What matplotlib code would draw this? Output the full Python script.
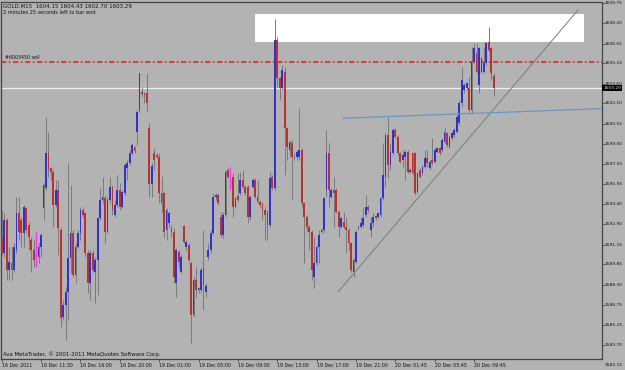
import matplotlib
matplotlib.use("Agg")
import matplotlib.pyplot as plt
from matplotlib.patches import Rectangle
from matplotlib.transforms import blended_transform_factory

# ---------------- data (GOLD, M15) ----------------
opens = [1591.95, 1590.68, 1593.22, 1589.41, 1589.92, 1589.41, 1590.93, 1593.73, 1593.22, 1592.20,
         1594.11, 1592.84, 1591.70, 1590.93, 1590.40, 1590.43, 1591.19, 1594.11, 1595.63, 1598.30,
         1597.16, 1596.90, 1594.36, 1595.50, 1592.46, 1585.86, 1586.75, 1587.76, 1590.30, 1592.20,
         1589.03, 1591.19, 1592.20, 1593.98, 1593.73, 1590.68, 1588.40, 1590.68, 1589.28, 1590.17,
         1593.35, 1594.74, 1594.87, 1592.33, 1594.74, 1595.76, 1593.60, 1594.36, 1595.51, 1594.24,
         1595.25, 1597.16, 1597.54, 1598.30, 1598.76, 1599.95, 1601.60, 1603.00, 1602.87, 1602.87,
         1600.20, 1595.96, 1598.30, 1598.17, 1598.00, 1595.30, 1595.30, 1592.46, 1592.97, 1592.59,
         1592.33, 1588.40, 1590.81, 1589.29, 1592.77, 1591.19, 1591.32, 1589.92, 1585.99, 1588.65,
         1587.89, 1587.89, 1589.54, 1587.77, 1590.43, 1590.94, 1592.21, 1594.95, 1595.13, 1593.48,
         1592.08, 1593.61, 1597.03, 1596.53, 1596.53, 1594.24, 1595.05, 1595.26, 1596.27, 1595.76,
         1595.76, 1593.48, 1595.76, 1596.27, 1595.00, 1594.62, 1594.50, 1593.99, 1593.86, 1592.85,
         1596.53, 1595.64, 1606.94, 1604.02, 1603.25, 1604.50, 1600.20, 1598.55, 1599.06, 1598.05,
         1598.05, 1598.05, 1598.55, 1594.49, 1593.47, 1592.71, 1592.33, 1588.90, 1589.92, 1591.19,
         1592.33, 1592.46, 1595.51, 1598.30, 1595.00, 1595.51, 1595.51, 1593.86, 1592.71, 1593.10,
         1592.71, 1592.46, 1591.44, 1589.29, 1590.05, 1592.59, 1592.71, 1592.84, 1593.60, 1594.23,
         1592.46, 1592.96, 1593.52, 1593.47, 1593.60, 1594.87, 1596.52, 1599.69, 1597.41, 1598.30,
         1600.07, 1599.57, 1598.30, 1597.79, 1598.04, 1598.42, 1596.90, 1598.30, 1598.30, 1595.38,
         1597.03, 1596.77, 1597.28, 1597.92, 1597.15, 1597.79, 1597.66, 1598.42, 1598.68, 1598.55,
         1599.18, 1599.82, 1598.80, 1599.44, 1599.69, 1599.95, 1600.59, 1602.11, 1603.13, 1603.25,
         1603.25, 1601.60, 1605.28, 1605.92, 1603.51, 1604.52, 1604.52, 1605.16, 1606.81, 1606.30,
         1604.15]
highs = [1593.98, 1593.73, 1593.35, 1591.19, 1591.19, 1591.44, 1595.00, 1595.00, 1593.47, 1594.36,
         1594.24, 1593.09, 1591.95, 1591.70, 1592.33, 1591.44, 1592.20, 1596.01, 1601.09, 1599.95,
         1597.28, 1597.03, 1596.27, 1596.27, 1592.71, 1587.13, 1588.14, 1597.54, 1595.89, 1592.46,
         1591.44, 1592.46, 1594.24, 1594.24, 1593.85, 1590.93, 1590.93, 1590.93, 1590.43, 1593.47,
         1595.63, 1596.52, 1595.12, 1595.00, 1596.52, 1595.89, 1594.74, 1596.65, 1596.02, 1595.51,
         1597.54, 1597.79, 1598.56, 1599.06, 1598.86, 1601.60, 1604.45, 1603.38, 1603.00, 1604.39,
         1600.59, 1597.54, 1598.68, 1598.35, 1598.30, 1596.57, 1595.38, 1594.11, 1593.86, 1592.84,
         1592.59, 1591.06, 1590.94, 1590.56, 1592.84, 1591.70, 1591.45, 1590.05, 1588.91, 1589.67,
         1588.14, 1589.67, 1592.46, 1588.40, 1591.45, 1592.46, 1595.26, 1595.26, 1595.26, 1593.86,
         1593.86, 1597.03, 1597.16, 1597.29, 1596.78, 1595.00, 1596.78, 1596.91, 1597.03, 1595.89,
         1595.89, 1595.13, 1596.40, 1596.40, 1596.27, 1594.75, 1594.62, 1594.24, 1593.99, 1596.91,
         1596.65, 1608.51, 1607.19, 1604.14, 1605.03, 1604.90, 1600.33, 1599.31, 1599.31, 1598.30,
         1598.55, 1601.73, 1598.68, 1594.62, 1593.60, 1592.84, 1592.46, 1591.95, 1591.32, 1592.46,
         1592.59, 1595.00, 1600.08, 1599.06, 1595.63, 1596.52, 1595.63, 1593.98, 1593.48, 1593.86,
         1593.48, 1592.59, 1591.57, 1590.30, 1592.46, 1592.84, 1593.48, 1594.11, 1595.12, 1594.36,
         1593.47, 1593.73, 1593.60, 1593.85, 1595.00, 1599.06, 1599.95, 1601.09, 1599.06, 1600.20,
         1600.20, 1599.69, 1598.42, 1598.55, 1598.55, 1598.55, 1597.15, 1598.42, 1598.42, 1596.90,
         1597.15, 1597.41, 1598.55, 1598.55, 1597.79, 1599.44, 1598.68, 1598.80, 1598.80, 1599.44,
         1600.20, 1599.95, 1599.69, 1599.95, 1600.20, 1601.22, 1602.36, 1604.90, 1603.63, 1603.76,
         1604.14, 1606.43, 1606.68, 1606.73, 1606.43, 1605.66, 1606.43, 1606.81, 1607.95, 1606.43,
         1604.43]
lows = [1590.55, 1590.43, 1588.65, 1588.65, 1588.65, 1589.28, 1590.68, 1591.70, 1591.19, 1591.19,
        1592.20, 1590.93, 1589.28, 1589.66, 1589.66, 1589.92, 1590.43, 1593.22, 1595.50, 1596.52,
        1596.27, 1592.71, 1594.24, 1590.55, 1585.09, 1585.60, 1584.08, 1585.60, 1589.16, 1588.90,
        1588.40, 1591.06, 1591.70, 1593.47, 1590.43, 1587.63, 1587.13, 1589.28, 1586.87, 1587.51,
        1593.22, 1594.49, 1591.44, 1592.20, 1594.49, 1593.60, 1593.47, 1594.24, 1593.98, 1594.11,
        1595.13, 1596.27, 1597.41, 1598.17, 1598.30, 1598.94, 1601.47, 1602.62, 1602.11, 1601.47,
        1595.00, 1595.00, 1597.03, 1597.92, 1594.49, 1593.73, 1591.83, 1591.70, 1592.71, 1591.95,
        1588.40, 1587.38, 1589.54, 1589.16, 1591.45, 1590.94, 1590.05, 1583.83, 1585.86, 1587.26,
        1587.64, 1587.76, 1586.37, 1587.39, 1590.18, 1590.69, 1592.08, 1594.75, 1594.37, 1591.96,
        1591.83, 1593.48, 1596.40, 1595.51, 1593.48, 1594.11, 1594.62, 1595.13, 1595.64, 1595.13,
        1592.97, 1593.23, 1595.64, 1594.88, 1594.50, 1594.24, 1593.23, 1591.70, 1591.70, 1592.72,
        1595.51, 1595.51, 1603.38, 1602.37, 1603.17, 1596.65, 1597.79, 1598.05, 1594.74, 1597.79,
        1597.79, 1597.79, 1594.24, 1589.92, 1592.33, 1590.94, 1588.65, 1588.02, 1589.79, 1589.92,
        1592.21, 1592.33, 1595.00, 1594.24, 1594.87, 1592.71, 1593.73, 1591.95, 1592.59, 1592.59,
        1590.68, 1590.94, 1589.29, 1588.90, 1589.92, 1592.46, 1592.59, 1592.71, 1593.48, 1593.85,
        1591.95, 1592.71, 1593.22, 1593.34, 1593.47, 1594.74, 1595.76, 1596.39, 1597.03, 1598.17,
        1599.44, 1598.17, 1597.53, 1597.28, 1596.26, 1596.77, 1596.77, 1596.65, 1595.12, 1595.25,
        1596.39, 1596.65, 1597.15, 1597.28, 1597.03, 1597.41, 1597.53, 1598.30, 1598.17, 1598.42,
        1599.06, 1598.80, 1598.68, 1599.31, 1599.57, 1599.82, 1600.46, 1601.86, 1602.87, 1603.13,
        1601.47, 1601.35, 1605.16, 1604.39, 1602.87, 1604.39, 1604.39, 1605.03, 1606.05, 1603.89,
        1602.70]
closes = [1590.68, 1593.22, 1589.41, 1590.05, 1589.41, 1591.19, 1593.73, 1592.33, 1592.20, 1594.24,
          1592.46, 1591.95, 1590.93, 1590.17, 1590.40, 1591.19, 1592.08, 1595.89, 1598.30, 1597.03,
          1596.90, 1594.36, 1595.50, 1592.58, 1585.73, 1586.75, 1587.76, 1590.30, 1592.20, 1589.03,
          1591.19, 1592.20, 1593.98, 1593.60, 1590.68, 1588.40, 1590.68, 1589.41, 1590.17, 1593.35,
          1594.74, 1595.00, 1592.33, 1594.74, 1595.76, 1593.98, 1594.36, 1595.50, 1594.24, 1595.38,
          1597.41, 1597.54, 1598.30, 1598.94, 1598.50, 1601.47, 1604.39, 1602.82, 1602.74, 1602.11,
          1595.96, 1597.34, 1597.79, 1598.00, 1595.25, 1594.49, 1592.33, 1593.98, 1593.73, 1592.33,
          1588.91, 1590.94, 1590.05, 1590.43, 1591.57, 1591.57, 1590.18, 1585.99, 1588.65, 1587.89,
          1588.02, 1589.41, 1588.27, 1588.20, 1590.94, 1592.21, 1595.00, 1595.13, 1594.50, 1592.08,
          1593.61, 1596.91, 1596.53, 1596.53, 1594.24, 1594.88, 1594.75, 1596.27, 1595.76, 1595.26,
          1593.48, 1595.00, 1596.27, 1595.00, 1594.62, 1594.37, 1593.99, 1593.61, 1592.85, 1596.40,
          1595.64, 1606.94, 1604.02, 1603.26, 1604.65, 1600.20, 1598.81, 1599.19, 1598.05, 1597.92,
          1598.43, 1598.55, 1594.49, 1593.47, 1592.71, 1592.33, 1589.41, 1589.92, 1591.19, 1592.08,
          1592.46, 1594.87, 1598.30, 1595.51, 1595.51, 1595.25, 1593.86, 1592.71, 1593.35, 1592.71,
          1592.46, 1591.44, 1589.41, 1590.17, 1592.33, 1592.71, 1592.97, 1593.35, 1594.24, 1593.98,
          1592.96, 1593.47, 1593.34, 1593.73, 1594.87, 1596.65, 1599.69, 1597.41, 1598.42, 1600.07,
          1599.57, 1598.30, 1597.66, 1598.17, 1598.42, 1596.90, 1597.03, 1596.77, 1595.25, 1596.77,
          1596.52, 1597.28, 1597.92, 1597.53, 1597.66, 1597.53, 1598.55, 1598.68, 1598.30, 1599.31,
          1599.95, 1598.93, 1599.57, 1599.82, 1600.07, 1601.09, 1602.11, 1603.89, 1603.51, 1603.63,
          1601.60, 1605.28, 1606.30, 1604.52, 1606.30, 1605.54, 1605.16, 1606.68, 1606.17, 1604.39,
          1603.29]
special_bars = [14, 93]          # bars drawn in magenta

time_tick_bars = [0, 16, 32, 48, 64, 80, 96, 112, 128, 144, 160, 176, 192]
time_labels = ["16 Dec 2011", "16 Dec 11:30", "16 Dec 16:00", "16 Dec 20:00", "19 Dec 01:00",
               "19 Dec 05:00", "19 Dec 09:00", "19 Dec 13:00", "19 Dec 17:00", "19 Dec 21:00",
               "20 Dec 01:45", "20 Dec 05:45", "20 Dec 09:45"]
price_labels = ["1609.75", "1608.20", "1606.65", "1605.15", "1603.60", "1602.10", "1600.55",
                "1599.00", "1597.50", "1595.95", "1594.40", "1592.90", "1591.35", "1589.85",
                "1588.30", "1586.75", "1585.25", "1583.70", "1582.15"]

sell_level = 1605.26
bid_level = 1603.29
box_bars = [103.0, 236.7]
box_prices = [1606.78, 1608.91]
gray_trend_bars = [136.7, 234.3]
gray_trend_prices = [1587.74, 1609.22]
blue_trend_bars = [138.7, 243.6]
blue_trend_prices = [1600.97, 1601.70]

title_text = "GOLD,M15  1604.15 1604.43 1602.70 1603.29"
timer_text = "2 minutes 25 seconds left to bar end"
order_text = "#6003450 sell"
copyright_text = "Ava MetaTrader, \u00a9 2001-2011 MetaQuotes Software Corp."

# ---------------- drawing ----------------
BG = "#b3b3b3"
W, H = 625, 370
fig = plt.figure(figsize=(W / 100, H / 100), dpi=100, facecolor=BG)
ax = fig.add_axes([1.5 / W, 1 - 358.5 / H, 600 / W, 357 / H], facecolor=BG)

ax.set_xlim(-0.08, 243.8)
ax.set_ylim(1582.67, 1609.86)

# white rectangle object (background)
ax.add_patch(Rectangle((box_bars[0], box_prices[0]), box_bars[1] - box_bars[0],
                       box_prices[1] - box_prices[0], facecolor="white", edgecolor="none", zorder=1))

ax.axhline(bid_level, color="#f2f2f2", lw=0.9, zorder=2)
ax.axhline(sell_level, color="#ff1a1a", lw=1.2, dashes=(3.2, 1.5, 1.0, 1.5), zorder=2)

bull_c, bear_c, wick_c = "#3232c8", "#b83232", "#7a7a7a"
bw = 0.72
for i, (o, h, l, c) in enumerate(zip(opens, highs, lows, closes)):
    if i in special_bars:
        ax.vlines(i, l, h, color="#ff33ff", lw=1.0, zorder=3)
        continue
    ax.vlines(i, l, h, color=wick_c, lw=0.7, zorder=3)
    lo, hi = min(o, c), max(o, c)
    ax.add_patch(Rectangle((i - bw / 2, lo), bw, max(hi - lo, 0.08),
                           facecolor=bull_c if c >= o else bear_c, edgecolor="none", zorder=4))

ax.plot(gray_trend_bars, gray_trend_prices, color="#7c7c7c", lw=0.7, zorder=5)
ax.plot(blue_trend_bars, blue_trend_prices, color="#6a96c8", lw=0.9, zorder=5)

for sp in ax.spines.values():
    sp.set_color("#454545")
    sp.set_linewidth(0.9)

# time axis
ax.set_xticks(time_tick_bars)
ax.set_xticklabels(time_labels, fontsize=3.4, ha="left", color="#111111")
ax.tick_params(axis="x", length=2, width=0.5, color="#333333", pad=1.5)
for t in ax.get_xticklabels():
    t.set_x(t.get_position()[0])

# price axis (labels drawn as text so the lowest one can sit below the frame)
ax.yaxis.tick_right()
vals = [float(v) for v in price_labels]
ax.set_yticks([v for v in vals if 1582.67 <= v <= 1609.86])
ax.set_yticklabels([])
ax.tick_params(axis="y", length=2, width=0.5, color="#333333")
tr = blended_transform_factory(ax.transAxes, ax.transData)
for lab, v in zip(price_labels, vals):
    ax.text(1.0 + 3 / 600, v, lab, transform=tr, fontsize=3.15, va="center", ha="left",
            color="#111111", clip_on=False)
ax.text(1.0 + 2 / 600, bid_level, "1603.29", transform=tr, fontsize=3.15, va="center", ha="left",
        color="#e0e0e0", clip_on=False, zorder=10,
        bbox=dict(boxstyle="square,pad=0.25", facecolor="black", edgecolor="none"))

# texts
fig.text(3 / W, 1 - 6 / H, title_text, fontsize=4.0, va="center", ha="left", color="#111111")
fig.text(3 / W, 1 - 13 / H, timer_text, fontsize=3.6, va="center", ha="left", color="#111111")
fig.text(5 / W, 1 - 57.5 / H, order_text, fontsize=3.45, va="center", ha="left", color="#111111")
fig.text(3 / W, 1 - 354.5 / H, copyright_text, fontsize=3.9, va="center", ha="left", color="#111111")

fig.savefig("out.png", dpi=100, facecolor=BG)
